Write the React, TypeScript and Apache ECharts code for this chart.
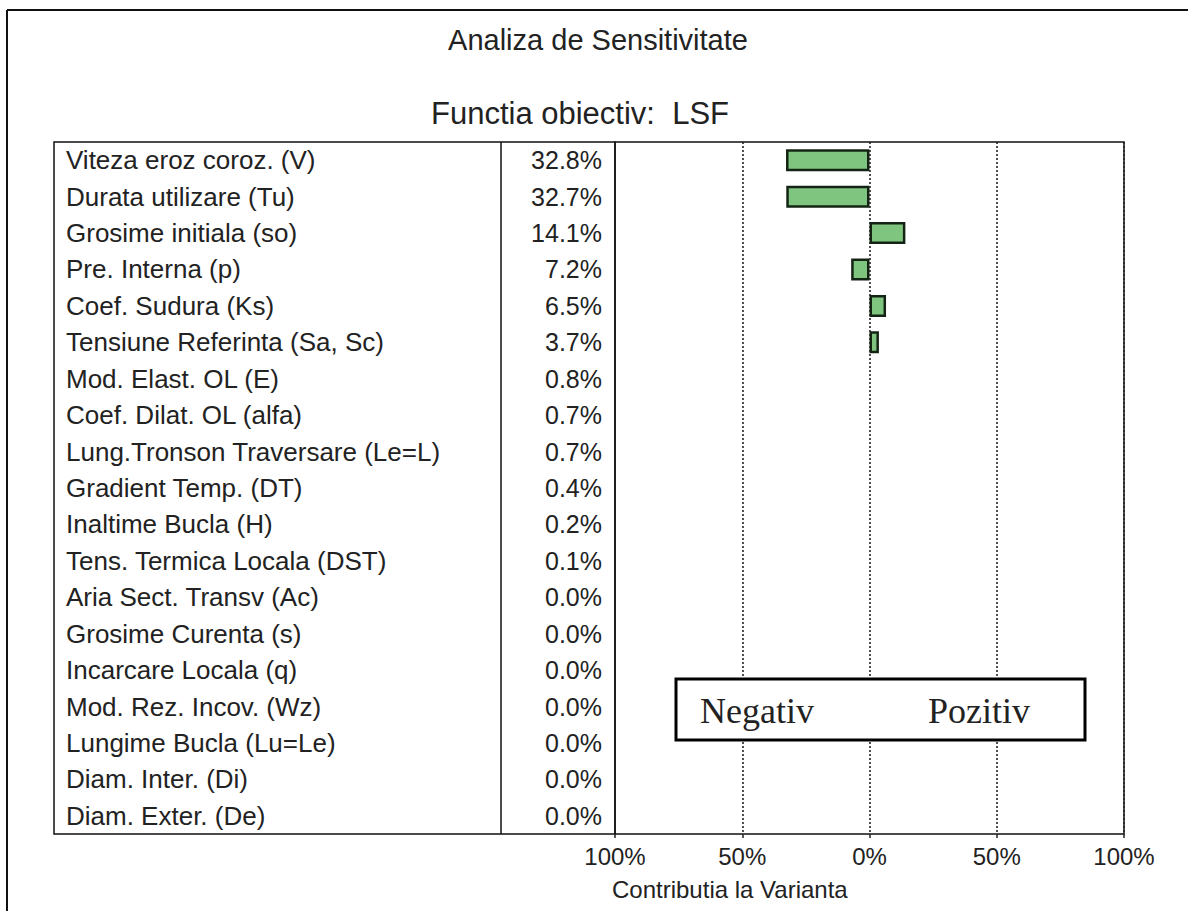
import React, { useEffect, useRef } from "react";
import * as echarts from "echarts";

const categories: string[] = [
  "Viteza eroz coroz. (V)",
  "Durata utilizare (Tu)",
  "Grosime initiala (so)",
  "Pre. Interna (p)",
  "Coef. Sudura (Ks)",
  "Tensiune Referinta (Sa, Sc)",
  "Mod. Elast. OL (E)",
  "Coef. Dilat. OL (alfa)",
  "Lung.Tronson Traversare (Le=L)",
  "Gradient Temp. (DT)",
  "Inaltime Bucla (H)",
  "Tens. Termica Locala (DST)",
  "Aria Sect. Transv (Ac)",
  "Grosime Curenta (s)",
  "Incarcare Locala (q)",
  "Mod. Rez. Incov. (Wz)",
  "Lungime Bucla (Lu=Le)",
  "Diam. Inter. (Di)",
  "Diam. Exter. (De)",
];

const contributionPct: number[] = [
  32.8, 32.7, 14.1, 7.2, 6.5, 3.7, 0.8, 0.7, 0.7, 0.4, 0.2, 0.1, 0.0, 0.0, 0.0, 0.0, 0.0, 0.0, 0.0,
];

// signed bar values (negative = Negativ side); only the visible bars are drawn
const barValues: (number | null)[] = [
  -32.8, -32.7, 14.1, -7.2, 6.5, 3.7, null, null, null, null, null, null, null, null, null, null, null, null, null,
];

const xTicks: number[] = [-100, -50, 0, 50, 100];

const title = "Analiza de Sensitivitate";
const subtitle = "Functia obiectiv:  LSF";
const xAxisName = "Contributia la Varianta";
const legendNeg = "Negativ";
const legendPos = "Pozitiv";

export default function App() {
  const ref = useRef<HTMLDivElement>(null);

  useEffect(() => {
    if (!ref.current) return;
    const chart = echarts.init(ref.current, null, { renderer: "svg" });
    const sans = "'Liberation Sans', Arial, sans-serif";
    const serif = "'Liberation Serif', 'Times New Roman', serif";
    const gridLeft = 615;
    const gridRight = 1124;
    const gridTop = 142;
    const gridBottom = 834;

    chart.setOption({
      animation: false,
      backgroundColor: "#ffffff",
      grid: {
        left: gridLeft,
        right: 1188 - gridRight,
        top: gridTop,
        bottom: 911 - gridBottom,
        show: true,
        borderColor: "#111",
        borderWidth: 1.5,
        backgroundColor: "transparent",
      },
      xAxis: {
        type: "value",
        min: xTicks[0],
        max: xTicks[xTicks.length - 1],
        interval: 50,
        axisLine: { show: false },
        axisTick: { show: true, length: 4, lineStyle: { color: "#222", width: 1.5 } },
        axisLabel: {
          formatter: (v: number) => Math.abs(v) + "%",
          fontFamily: sans,
          fontSize: 24,
          color: "#222",
          margin: 10,
        },
        splitLine: { show: true, lineStyle: { type: [2, 2], color: "#222", width: 1.6 } },
        name: xAxisName,
        nameLocation: "start",
        nameGap: 0,
        nameTextStyle: {
          fontFamily: sans,
          fontSize: 24,
          color: "#222",
          align: "left",
          verticalAlign: "top",
          padding: [43, 0, 0, -3],
        },
      },
      yAxis: [
        {
          type: "category",
          data: categories,
          inverse: true,
          position: "left",
          axisLine: { show: false },
          axisTick: { show: false },
          splitLine: { show: false },
          axisLabel: {
            align: "left",
            margin: gridLeft - 66,
            fontFamily: sans,
            fontSize: 26,
            color: "#222",
          },
        },
        {
          type: "category",
          data: contributionPct.map((v) => v.toFixed(1) + "%"),
          inverse: true,
          position: "left",
          axisLine: { show: false },
          axisTick: { show: false },
          splitLine: { show: false },
          axisLabel: {
            align: "right",
            margin: 13,
            fontFamily: sans,
            fontSize: 25,
            color: "#222",
          },
        },
      ],
      series: [
        {
          type: "bar",
          data: barValues,
          yAxisIndex: 0,
          barWidth: 22,
          itemStyle: {
            color: "#7fc47f",
            borderColor: "#142414",
            borderWidth: 2.5,
          },
          z: 3,
        },
      ],
      graphic: [
        // outer frame
        { type: "line", shape: { x1: 7, y1: 10, x2: 1188, y2: 10 }, style: { stroke: "#111", lineWidth: 2 } },
        { type: "line", shape: { x1: 7, y1: 10, x2: 7, y2: 911 }, style: { stroke: "#111", lineWidth: 2 } },
        // table box
        {
          type: "rect",
          shape: { x: 54, y: gridTop, width: gridLeft - 54, height: gridBottom - gridTop },
          style: { fill: "none", stroke: "#111", lineWidth: 1.5 },
        },
        { type: "line", shape: { x1: 501, y1: gridTop, x2: 501, y2: gridBottom }, style: { stroke: "#111", lineWidth: 1.5 } },
        // titles
        {
          type: "text",
          x: 598,
          y: 40,
          style: { text: title, fontFamily: sans, fontSize: 29, fill: "#222", textAlign: "center", textVerticalAlign: "middle" },
        },
        {
          type: "text",
          x: 580,
          y: 113,
          style: { text: subtitle, fontFamily: sans, fontSize: 31, fill: "#222", textAlign: "center", textVerticalAlign: "middle" },
        },
        // legend box
        {
          type: "rect",
          z: 100,
          shape: { x: 676, y: 679, width: 409, height: 61 },
          style: { fill: "#ffffff", stroke: "#000", lineWidth: 3 },
        },
        {
          type: "text",
          z: 101,
          x: 700,
          y: 711,
          style: { text: legendNeg, fontFamily: serif, fontSize: 36, fill: "#222", textAlign: "left", textVerticalAlign: "middle" },
        },
        {
          type: "text",
          z: 101,
          x: 928,
          y: 711,
          style: { text: legendPos, fontFamily: serif, fontSize: 36, fill: "#222", textAlign: "left", textVerticalAlign: "middle" },
        },
      ],
    });

    return () => chart.dispose();
  }, []);

  return (
    <div
      ref={ref}
      style={{ position: "absolute", left: 0, top: 0, width: 1188, height: 911, background: "#fff" }}
    />
  );
}
